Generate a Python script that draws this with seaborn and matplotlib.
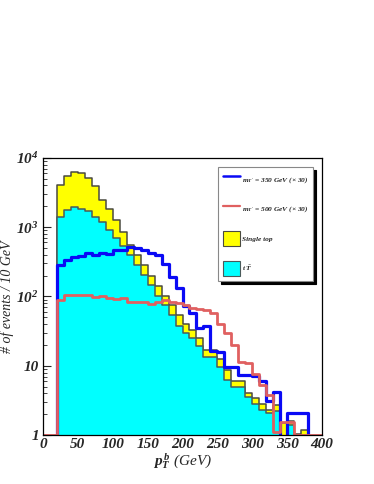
import numpy as np
import pandas as pd
import matplotlib
matplotlib.use('Agg')
from matplotlib import pyplot as plt
from matplotlib.lines import Line2D
from matplotlib.patches import Patch
from matplotlib.ticker import FixedLocator, NullFormatter
import seaborn as sns

# b-jet pT spectrum, 10 GeV bins
bin_width = 10
tt_low = 20          # first bin of the stacked backgrounds
tt_events = [1380, 1780, 1920, 1840, 1680, 1420, 1170, 910, 700, 530,
             395, 285, 205, 145, 102, 75, 54, 38, 30, 25,
             19, 13.5, 13.5, 9.7, 6.2, 5.0, 5.0, 3.5, 2.8, 2.3,
             2.1, 2.2, 0.9, 1.4, 0, 0, 0]
single_top = [2690, 3720, 4330, 4240, 3470, 2530, 1330, 890, 550, 320,
              165, 115, 75, 55, 41, 27, 21, 16, 10, 8,
              6, 3.5, 3.5, 2.7, 2.6, 1.0, 1.0, 0.5, 0.66, 0.47,
              0.2, 0.5, 0.58, 0.2, 1.05, 1.2, 0]

m350_low = 10        # signal m_T' = 350 GeV (x30)
m350 = [0, 285, 337, 368, 385, 420, 398, 418, 411, 465, 470,
        515, 505, 460, 420, 395, 290, 192, 134, 72, 58,
        35, 37, 16.5, 16, 9.5, 9.5, 7.3, 7.3, 7.2, 6.0,
        3.1, 4.2, 0, 2.1, 2.1, 2.1, 0]

m500_low = 0         # signal m_T' = 500 GeV (x30)
m500 = [1, 1, 89, 105, 106, 105, 104, 97, 102, 94, 92, 95,
        83, 82, 84, 79, 84, 88, 83, 80, 75, 69,
        66, 64, 57, 40, 30, 20, 11.5, 11, 7.5, 5.2,
        3.8, 1.1, 1.55, 1.55, 1, 1, 1, 1]

ytick_vals = [1, 10, 100, 1000, 10000]
ytick_labels = ['1', '10', '$10^{2}$', '$10^{3}$', '$10^{4}$']
xtick_vals = [0, 50, 100, 150, 200, 250, 300, 350, 400]


def hist_frame(low, counts):
    edges = [low + bin_width * i for i in range(len(counts) + 1)]
    df = pd.DataFrame({'pt': [e + bin_width / 2 for e in edges[:-1]],
                       'n': counts})
    return df, edges


sns.set_style('white')
plt.rcParams['font.family'] = ['Liberation Serif', 'DejaVu Serif']
plt.rcParams['font.weight'] = 'bold'
plt.rcParams['font.style'] = 'italic'
plt.rcParams['mathtext.fontset'] = 'custom'
plt.rcParams['mathtext.rm'] = 'Liberation Serif:bold:italic'
plt.rcParams['mathtext.it'] = 'Liberation Serif:bold:italic'
plt.rcParams['mathtext.bf'] = 'Liberation Serif:bold:italic'

fig = plt.figure(figsize=(3.74, 4.84), dpi=100)
ax = fig.add_axes([0.115, 0.101, 0.746, 0.573])

total = [a + b for a, b in zip(tt_events, single_top)]
df_tot, e_bkg = hist_frame(tt_low, total)
df_tt, _ = hist_frame(tt_low, tt_events)
sns.histplot(data=df_tot, x='pt', weights='n', bins=e_bkg, element='step', fill=True,
             color='#ffff00', alpha=1, edgecolor='#4a4a40', linewidth=1.1, ax=ax)
sns.histplot(data=df_tt, x='pt', weights='n', bins=e_bkg, element='step', fill=True,
             color='#00ffff', alpha=1, edgecolor='#4a5a5a', linewidth=1.1, ax=ax)

df350, e350 = hist_frame(m350_low, m350)
sns.histplot(data=df350, x='pt', weights='n', bins=e350, element='step', fill=False,
             color='#0a0af5', linewidth=2.3, ax=ax)
df500, e500 = hist_frame(m500_low, m500)
sns.histplot(data=df500, x='pt', weights='n', bins=e500, element='step', fill=False,
             color='#e06060', linewidth=2.0, ax=ax)

ax.set_yscale('log')
ax.set_xlim(0, 400)
ax.set_ylim(1, 10000)
ax.yaxis.set_major_locator(FixedLocator(ytick_vals))
ax.set_yticklabels(ytick_labels)
ax.yaxis.set_minor_locator(FixedLocator(
    [m * d for d in [1, 10, 100, 1000] for m in range(2, 10)]))
ax.yaxis.set_minor_formatter(NullFormatter())
ax.set_xticks(xtick_vals)
ax.tick_params(axis='y', which='major', direction='in', length=6, width=0.8,
               labelsize=11, pad=3, left=True, right=False)
ax.tick_params(axis='y', which='minor', direction='in', length=3, width=0.6,
               left=True, right=False)
ax.tick_params(axis='x', which='both', length=0, labelsize=11, pad=2)
for s in ax.spines.values():
    s.set_linewidth(0.9)
    s.set_color('black')

ax.set_ylabel('# of events / 10 GeV', fontsize=10, labelpad=2)
ax.set_xlabel('$p_{T}^{\\,b}$ (GeV)', fontsize=11)
ax.xaxis.set_label_coords(0.5, -0.058)

handles = [Line2D([], [], color='#0a0af5', lw=1.8),
           Line2D([], [], color='#e06060', lw=1.6),
           Patch(facecolor='#ffff00', edgecolor='#4a4a40', lw=0.8),
           Patch(facecolor='#00ffff', edgecolor='#4a5a5a', lw=0.8)]
labels = ["$m_{T'}$ = 350 GeV (× 30)", "$m_{T'}$ = 500 GeV (× 30)",
          'Single top', '$t\\ \\bar{T}$']
leg = ax.legend(handles, labels, loc='upper right', bbox_to_anchor=(0.967, 0.967),
                fontsize=5.3, frameon=True, fancybox=False,
                shadow={'color': 'black', 'alpha': 1, 'ox': 2, 'oy': -2},
                edgecolor='#888888', framealpha=1, borderpad=0.6, labelspacing=2.0,
                handlelength=2.3, handleheight=2.8, handletextpad=0.3, borderaxespad=0)
leg.get_frame().set_linewidth(0.8)

fig.savefig('out.png', dpi=100)
